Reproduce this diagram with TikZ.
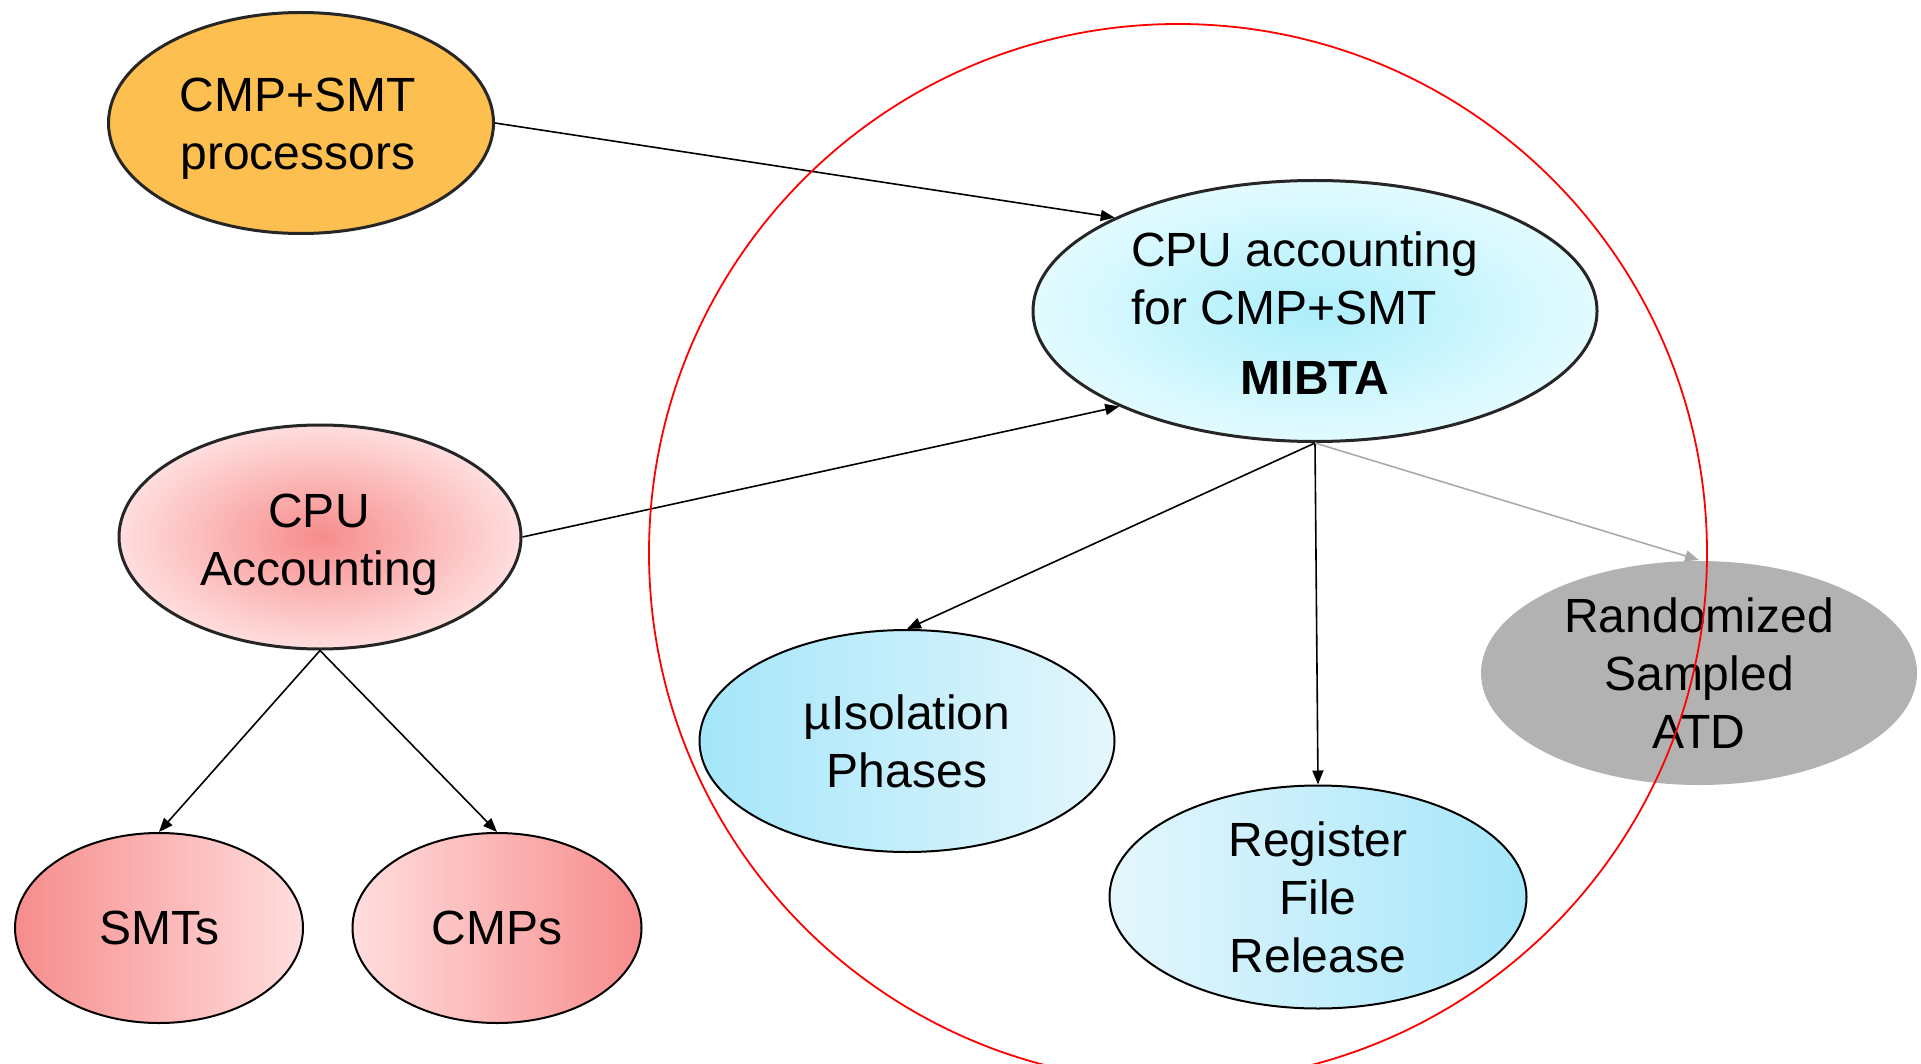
\documentclass[tikz,border=0pt]{standalone}
\usepackage{fontspec}
\setmainfont{Liberation Sans}
\usetikzlibrary{shapes.geometric,arrows.meta}
\definecolor{orangefill}{RGB}{253,191,79}
\definecolor{cyancore}{RGB}{172,238,250}
\definecolor{cyanrim}{RGB}{226,251,255}
\definecolor{pinkcore}{RGB}{247,140,140}
\definecolor{pinkrim}{RGB}{255,222,222}
\definecolor{bluedeep}{RGB}{165,230,250}
\definecolor{bluelight}{RGB}{228,246,252}
\definecolor{grayfill}{RGB}{178,178,178}
\definecolor{grayline}{RGB}{170,170,170}
\begin{document}
\begin{tikzpicture}[x=1pt,y=-1pt,
  txt/.style={font=\fontsize{48}{58}\selectfont},
  ell/.style={ellipse, draw=black, line width=2pt, inner sep=0pt, align=center, txt},
  bevel/.style={ell, line width=3pt, draw=black!85},
  conn/.style={-{Triangle[length=14pt,width=11pt]}, line width=1.6pt, black},
  gconn/.style={-{Triangle[length=14pt,width=11pt]}, line width=1.6pt, grayline}]
\useasboundingbox (0,0) rectangle (1921,1064);
\clip (0,0) rectangle (1921,1064);

% nodes
\node[bevel, fill=orangefill, minimum width=385pt, minimum height=221pt] (cmpsmt) at (301,123) {};
\node[txt, align=center, inner sep=0pt] (cmpsmttext) at (298,129) {CMP+SMT\\processors};
\node[bevel, shading=radial, inner color=cyancore, outer color=cyanrim, minimum width=564pt, minimum height=261pt] (mibta) at (1315,311) {};
\node[txt, anchor=west, align=left, inner sep=0pt] (mibtatext) at (1131,278) {CPU accounting\\for CMP+SMT};
\node[txt, font=\fontsize{48}{58}\selectfont\bfseries, inner sep=0pt] (mibtaname) at (1315,378) {MIBTA};
\node[bevel, shading=radial, inner color=pinkcore, outer color=pinkrim, minimum width=402pt, minimum height=224pt] (cpuacc) at (320,537) {};
\node[txt, align=center, inner sep=0pt] (cpuacctext) at (319,545) {CPU\\Accounting};
\node[ell, left color=pinkcore, right color=pinkrim, minimum width=288pt, minimum height=190pt] (smts) at (159,928) {SMTs};
\node[ell, left color=pinkrim, right color=pinkcore, minimum width=289pt, minimum height=190pt] (cmps) at (497,928) {CMPs};
\node[ell, left color=bluedeep, right color=bluelight, minimum width=415pt, minimum height=222pt] (muiso) at (907,741) {µIsolation\\Phases};
\node[ell, left color=bluelight, right color=bluedeep, minimum width=417pt, minimum height=223pt] (regfile) at (1318,897) {Register\\File\\Release};
\node[ell, draw=none, fill=grayfill, minimum width=436pt, minimum height=224pt] (random) at (1699,673) {Randomized\\Sampled\\ATD};

% connectors
\draw[conn] (cmpsmt.east) -- (mibta.155);
\draw[conn] (cpuacc.east) -- (mibta.206);
\draw[conn] (mibta.south) -- (muiso.north);
\draw[conn] (mibta.south) -- (regfile.north);
\draw[gconn] (mibta.south) -- (random.north);
\draw[conn] (cpuacc.south) -- (smts.north);
\draw[conn] (cpuacc.south) -- (cmps.north);

% red circle
\draw[red, line width=1.8pt] (1178,553) circle[radius=529];
\end{tikzpicture}
\end{document}
